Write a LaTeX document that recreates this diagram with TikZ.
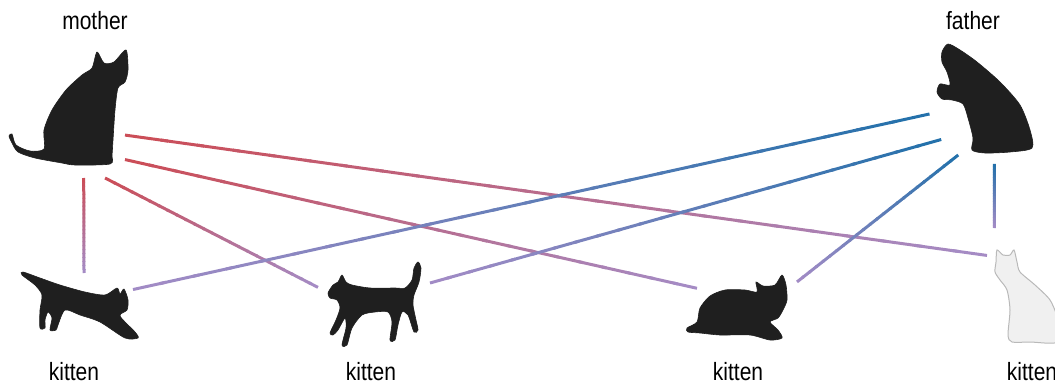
\documentclass[tikz,border=0pt]{standalone}
\usepackage{fontspec}
\setmainfont[FakeStretch=0.84]{Liberation Sans}
\usepackage{tikz}
\usetikzlibrary{shapes.geometric, calc}

\definecolor{momred}{HTML}{CC4C55}
\definecolor{dadblue}{HTML}{2070AA}
\definecolor{kidpurple}{HTML}{A48CC6}

% line that fades from the parent's colour to the kitten's
\newcommand{\kinline}[4]{%
  \foreach \i in {1,...,24}{%
    \pgfmathtruncatemacro{\mix}{100-(\i-0.5)*100/24}%
    \draw[kin, color=#3!\mix!#4] ($(#1)!{(\i-1)/24}!(#2)$) -- ($(#1)!{min(\i+0.2,24)/24}!(#2)$);
  }}

\tikzset{
  cat/.style 2 args={inner sep=0pt, outer sep=0pt, minimum width=#1*0.5pt, minimum height=#2*0.5pt},
  catname/.style={font=\fontsize{12.5pt}{15pt}\selectfont, inner sep=0pt, anchor=base},
  kin/.style={line width=1.5pt},
  fur/.style={fill=black!88, draw=black!88, line width=0.3pt},
  whitefur/.style={fill=gray!12, draw=gray!55, line width=0.5pt},
}

\begin{document}
\begin{tikzpicture}[x=0.5pt, y=-0.5pt]
    \useasboundingbox (0,0) rectangle (1055,385);

    \node[cat={115}{130}] (mother) at (67.5,113) {};
    \node[cat={124}{128}, ellipse] (father) at (990,100) {};
    \node[cat={111}{67}] (kitten1) at (77.5,306.5) {};
    \node[cat={112}{85}] (kitten2) at (374,304.5) {};
    \node[cat={100}{67}] (kitten3) at (747,308.5) {};
    \node[cat={68}{114}] (kitten4) at (1021,285) {};

    \node[catname] (mother_name) at (95,30) {mother};
    \node[catname] (father_name) at (973,30) {father};
    \node[catname] (kitten1_name) at (74,380) {kitten};
    \node[catname] (kitten2_name) at (371,380) {kitten};
    \node[catname] (kitten3_name) at (738,380) {kitten};
    \node[catname] (kitten4_name) at (1032,380) {kitten};

    \kinline{mother.-76}{kitten1.79}{momred}{kidpurple}
    \kinline{mother.-60}{kitten2.163}{momred}{kidpurple}
    \kinline{mother.-39}{kitten3.158}{momred}{kidpurple}
    \kinline{mother.-21}{kitten4.139}{momred}{kidpurple}
    \kinline{father.-167}{kitten1.17}{dadblue}{kidpurple}
    \kinline{father.-141}{kitten2.21}{dadblue}{kidpurple}
    \kinline{father.-120}{kitten3.28}{dadblue}{kidpurple}
    \kinline{father.-86}{kitten4.115}{dadblue}{kidpurple}

    % the cats
    \fill[fur] plot[smooth cycle, tension=0.45] coordinates {(97,52) (104,63) (114,62) (126,50) (128,70) (125,82) (118,88) (115,110) (113,140) (112,155) (110,164) (75,165) (62,163) (35,158) (18,152) (12,143) (9,136) (12,134) (16,145) (30,151) (44,149) (44,130) (52,110) (66,90) (82,75) (92,68)};
    \fill[fur] plot[smooth cycle, tension=0.45] coordinates {(948,44) (960,50) (977,62) (1000,82) (1020,105) (1030,130) (1032,148) (1010,152) (985,153) (972,150) (973,138) (968,118) (963,104) (952,100) (942,99) (937,92) (940,84) (950,85) (947,72) (942,62) (942,52)};
    \fill[fur] plot[smooth cycle, tension=0.45] coordinates {(23,272) (40,278) (60,285) (85,292) (105,295) (117,288) (120,294) (124,289) (128,300) (127,310) (120,316) (135,332) (138,338) (125,338) (100,322) (80,315) (65,310) (58,325) (56,330) (50,330) (52,318) (48,312) (45,320) (45,328) (40,328) (40,310) (42,295) (35,285) (22,275)};
    \fill[fur] plot[smooth cycle, tension=0.45] coordinates {(328,293) (333,285) (338,282) (342,275) (346,282) (352,285) (370,288) (395,288) (405,288) (412,280) (414,268) (418,262) (421,268) (419,282) (414,295) (413,305) (416,320) (418,330) (414,332) (408,315) (402,312) (398,325) (395,340) (390,340) (392,322) (388,312) (375,312) (362,315) (352,328) (347,345) (342,345) (346,328) (345,318) (338,330) (333,335) (330,333) (336,320) (340,308) (337,300) (330,298)};
    \fill[fur] plot[smooth cycle, tension=0.45] coordinates {(687,328) (697,322) (700,308) (710,296) (725,290) (745,290) (757,292) (756,282) (763,286) (775,285) (782,275) (786,285) (787,300) (783,310) (778,318) (770,322) (778,330) (782,338) (770,340) (750,335) (720,335) (700,333) (688,332)};
    \filldraw[whitefur] plot[smooth cycle, tension=0.45] coordinates {(996,262) (997,250) (1003,255) (1010,255) (1014,250) (1017,262) (1020,272) (1035,285) (1050,300) (1058,320) (1058,342) (1030,342) (1012,342) (1008,335) (1010,310) (1007,290) (1000,280) (995,272)};
\end{tikzpicture}
\end{document}
